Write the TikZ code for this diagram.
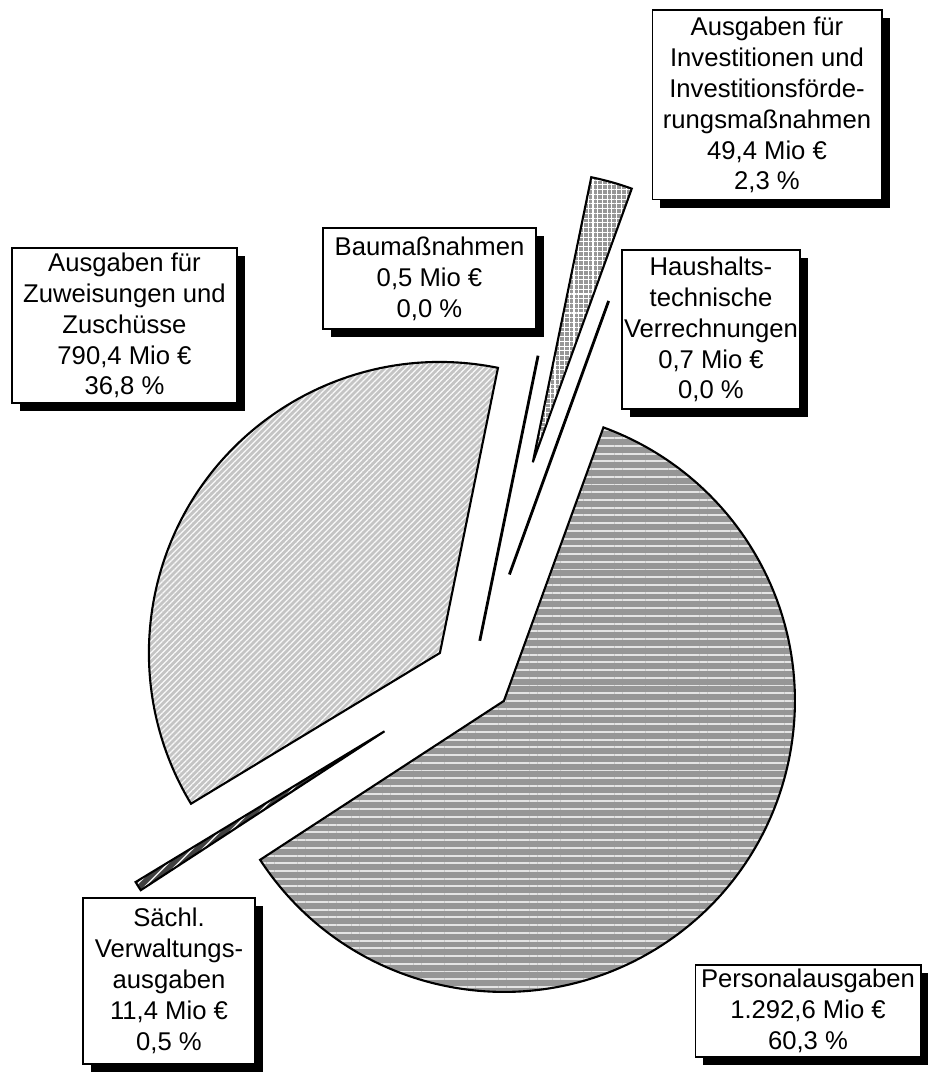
\documentclass[tikz,border=0pt]{standalone}
\usepackage{fontspec}
\setmainfont{Liberation Sans}
\usetikzlibrary{shadows, patterns.meta}
\definecolor{midgray}{RGB}{150,150,150}
\definecolor{lightgray}{RGB}{196,196,196}
\definecolor{darkgray}{RGB}{64,64,64}
\definecolor{stripe}{RGB}{228,228,228}

\begin{document}
\begin{tikzpicture}[
    x=0.02cm, y=0.02cm,
    labelbox/.style={rectangle, draw=black, line width=0.6pt, fill=white, align=center, inner sep=0pt, font=\fontsize{14.6}{17.6}\selectfont, drop shadow={shadow xshift=0.16cm, shadow yshift=-0.16cm, fill=black, opacity=1}},
    slice/.style={draw=black, line width=1.2pt, line join=miter},
    personal/.style={slice, preaction={fill=midgray}, pattern={Lines[angle=0, distance=4.4pt, line width=1.1pt]}, pattern color=stripe},
    zuweisung/.style={slice, preaction={fill=lightgray}, pattern={Lines[angle=45, distance=2.4pt, line width=0.7pt]}, pattern color=white!90!lightgray},
    invest/.style={slice, preaction={fill=midgray}, pattern={Hatch[angle=0, distance=2.7pt, line width=0.6pt]}, pattern color=white},
    saechl/.style={slice, preaction={fill=darkgray}, pattern={Lines[angle=45, distance=4pt, line width=0.9pt]}, pattern color=stripe},
    zeroline/.style={draw=black, line width=1.6pt}
]
\useasboundingbox (0,0) rectangle (928,1072);

% Exploded slice tips
\coordinate (personal_tip) at (503.9,371.1);
\coordinate (zuweisung_tip) at (439.9,419.0);
\coordinate (saechl_tip) at (384.5,340.7);
\coordinate (invest_tip) at (532.8,609.7);
\coordinate (bau_tip) at (479.8,431.2);
\coordinate (haushalt_tip) at (509.4,497.5);

% Slices
\filldraw[personal] (personal_tip) -- ++(213.1:291) arc[start angle=213.1, end angle=430, radius=291] -- cycle;
\filldraw[zuweisung] (zuweisung_tip) -- ++(78.49:291) arc[start angle=78.49, end angle=211.2, radius=291] -- cycle;
\filldraw[saechl] (saechl_tip) -- ++(211.2:291) arc[start angle=211.2, end angle=213.1, radius=291] -- cycle;
\filldraw[invest] (invest_tip) -- ++(70.12:291) arc[start angle=70.12, end angle=78.41, radius=291] -- cycle;
\draw[zeroline] (bau_tip) -- ++(78.45:291);
\draw[zeroline] (haushalt_tip) -- ++(70.06:291);

% Labels
\node (invest_box) [labelbox, minimum width=4.6cm, minimum height=3.8cm] at (767,967) {Ausgaben für\\Investitionen und\\Investitionsförde-\\rungsmaßnahmen\\49,4 Mio €\\2,3 \%};
\node (bau_box) [labelbox, minimum width=4.26cm, minimum height=2.02cm] at (429.5,793.5) {Baumaßnahmen\\0,5 Mio €\\0,0 \%};
\node (haushalt_box) [labelbox, minimum width=3.56cm, minimum height=3.18cm] at (711,742.5) {Haushalts-\\technische\\Verrechnungen\\0,7 Mio €\\0,0 \%};
\node (zuweisung_box) [labelbox, minimum width=4.5cm, minimum height=3.1cm] at (124.5,746.5) {Ausgaben für\\Zuweisungen und\\Zuschüsse\\790,4 Mio €\\36,8 \%};
\node (saechl_box) [labelbox, minimum width=3.44cm, minimum height=3.32cm] at (169,91) {Sächl.\\Verwaltungs-\\ausgaben\\11,4 Mio €\\0,5 \%};
\node (personal_box) [labelbox, minimum width=4.52cm, minimum height=1.84cm] at (808,61) {Personalausgaben\\1.292,6 Mio €\\60,3 \%};

\end{tikzpicture}
\end{document}
